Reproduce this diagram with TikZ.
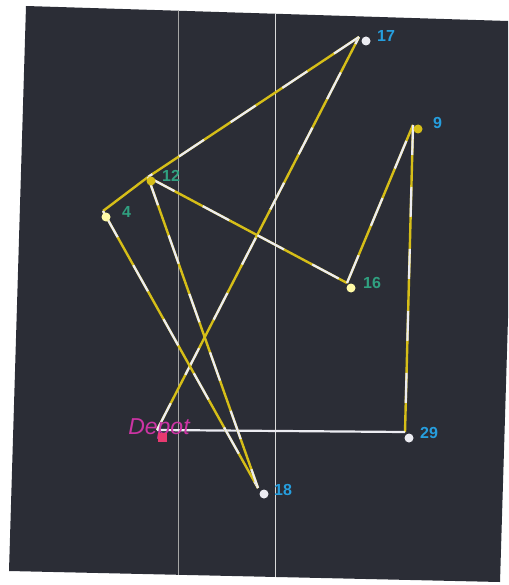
\documentclass[tikz,border=0pt]{standalone}
\usepackage{fontspec}
\setmainfont{Liberation Sans}
\usepackage{tikz}
\definecolor{boardbg}{RGB}{43,45,54}
\definecolor{routeyel}{RGB}{214,190,24}
\definecolor{routewht}{RGB}{236,236,242}
\definecolor{numblue}{RGB}{38,158,222}
\definecolor{numteal}{RGB}{48,160,128}
\definecolor{depotmag}{RGB}{204,52,164}
\definecolor{depotpink}{RGB}{232,58,112}
\tikzset{
  canvas/.style  ={fill=boardbg, draw=none},
  gridln/.style  ={draw=gray!70, line width=0.7pt},
  stopdot/.style ={circle, fill=routewht, minimum size=9pt, inner sep=0pt},
  stopgold/.style={circle, fill=routeyel, minimum size=9pt, inner sep=0pt},
  stoppale/.style={circle, fill=yellow!35, minimum size=9pt, inner sep=0pt},
  numlab/.style  ={anchor=west, inner sep=0pt, text=numblue,
                   font=\fontsize{16}{16}\selectfont\bfseries},
  leg/.style     ={draw=routeyel, line width=2.4pt},
  legw/.style    ={draw=routewht, line width=2.2pt},
  mixed/.style   ={draw=routeyel, line width=2.4pt,
                   postaction={draw=routewht, line width=2.2pt,
                   dash pattern=on 30pt off 32pt}},
  depotsq/.style ={rectangle, fill=depotpink, minimum size=9pt, inner sep=0pt},
  depotlab/.style={inner sep=0pt, text=depotmag,
                   font=\fontsize{23}{23}\selectfont\itshape},
}
\begin{document}
\begin{tikzpicture}[x=1pt, y=-1pt]
  \useasboundingbox (0,0) rectangle (508,585);
  \fill[canvas] (26,6) -- (508,21) -- (508,318) -- (500,582) -- (9,571) -- cycle;
  \draw[gridln] (178,11) -- (178,575);
  \draw[gridln, draw=gray!30, line width=0.4pt] (275,14) -- (275,577);

  % route corners
  \coordinate (vD)  at (157,430);
  \coordinate (v17) at (359,37);
  \coordinate (v12) at (148,177);
  \coordinate (v4)  at (103,211);
  \coordinate (v16) at (347,283);
  \coordinate (v9)  at (413,125);
  \coordinate (v29) at (405,432);
  \coordinate (v18) at (258,488);

  \draw[mixed] (vD) -- (v17);
  \draw[mixed, postaction={dash phase=20pt}] (v17) -- (v12);
  \draw[mixed, postaction={dash phase=40pt}] (v12) -- (v16);
  \draw[mixed] (v16) -- (v9);
  \draw[mixed, postaction={dash phase=0pt}] (v9) -- (v29);
  \draw[legw] (v29) -- (vD);
  \draw[leg] (v4) -- (v12);
  \draw[mixed] (v4) -- (v18);
  \draw[mixed, postaction={dash phase=15pt}] (v12) -- (v18);

  \node[depotlab] (tD) at (159,429) {Depot};
  \node[depotsq] (pD) at (162,437) {};

  \node[stopdot]  (p17) at (366,41) {};
  \node[stopgold] (p12) at (151,181) {};
  \node[stoppale] (p4)  at (106,217) {};
  \node[stoppale] (p16) at (351,288) {};
  \node[stopgold] (p9)  at (418,129) {};
  \node[stopdot]  (p29) at (409,438) {};
  \node[stopdot]  (p18) at (264,494) {};

  \node[numlab] (t17) at (377,36) {17};
  \node[numlab, text=numteal] (t12) at (162,176) {12};
  \node[numlab, text=numteal] (t4)  at (122,212) {4};
  \node[numlab, text=numteal] (t16) at (363,283) {16};
  \node[numlab] (t9)  at (433,123) {9};
  \node[numlab] (t29) at (420,433) {29};
  \node[numlab] (t18) at (274,490) {18};
\end{tikzpicture}
\end{document}
